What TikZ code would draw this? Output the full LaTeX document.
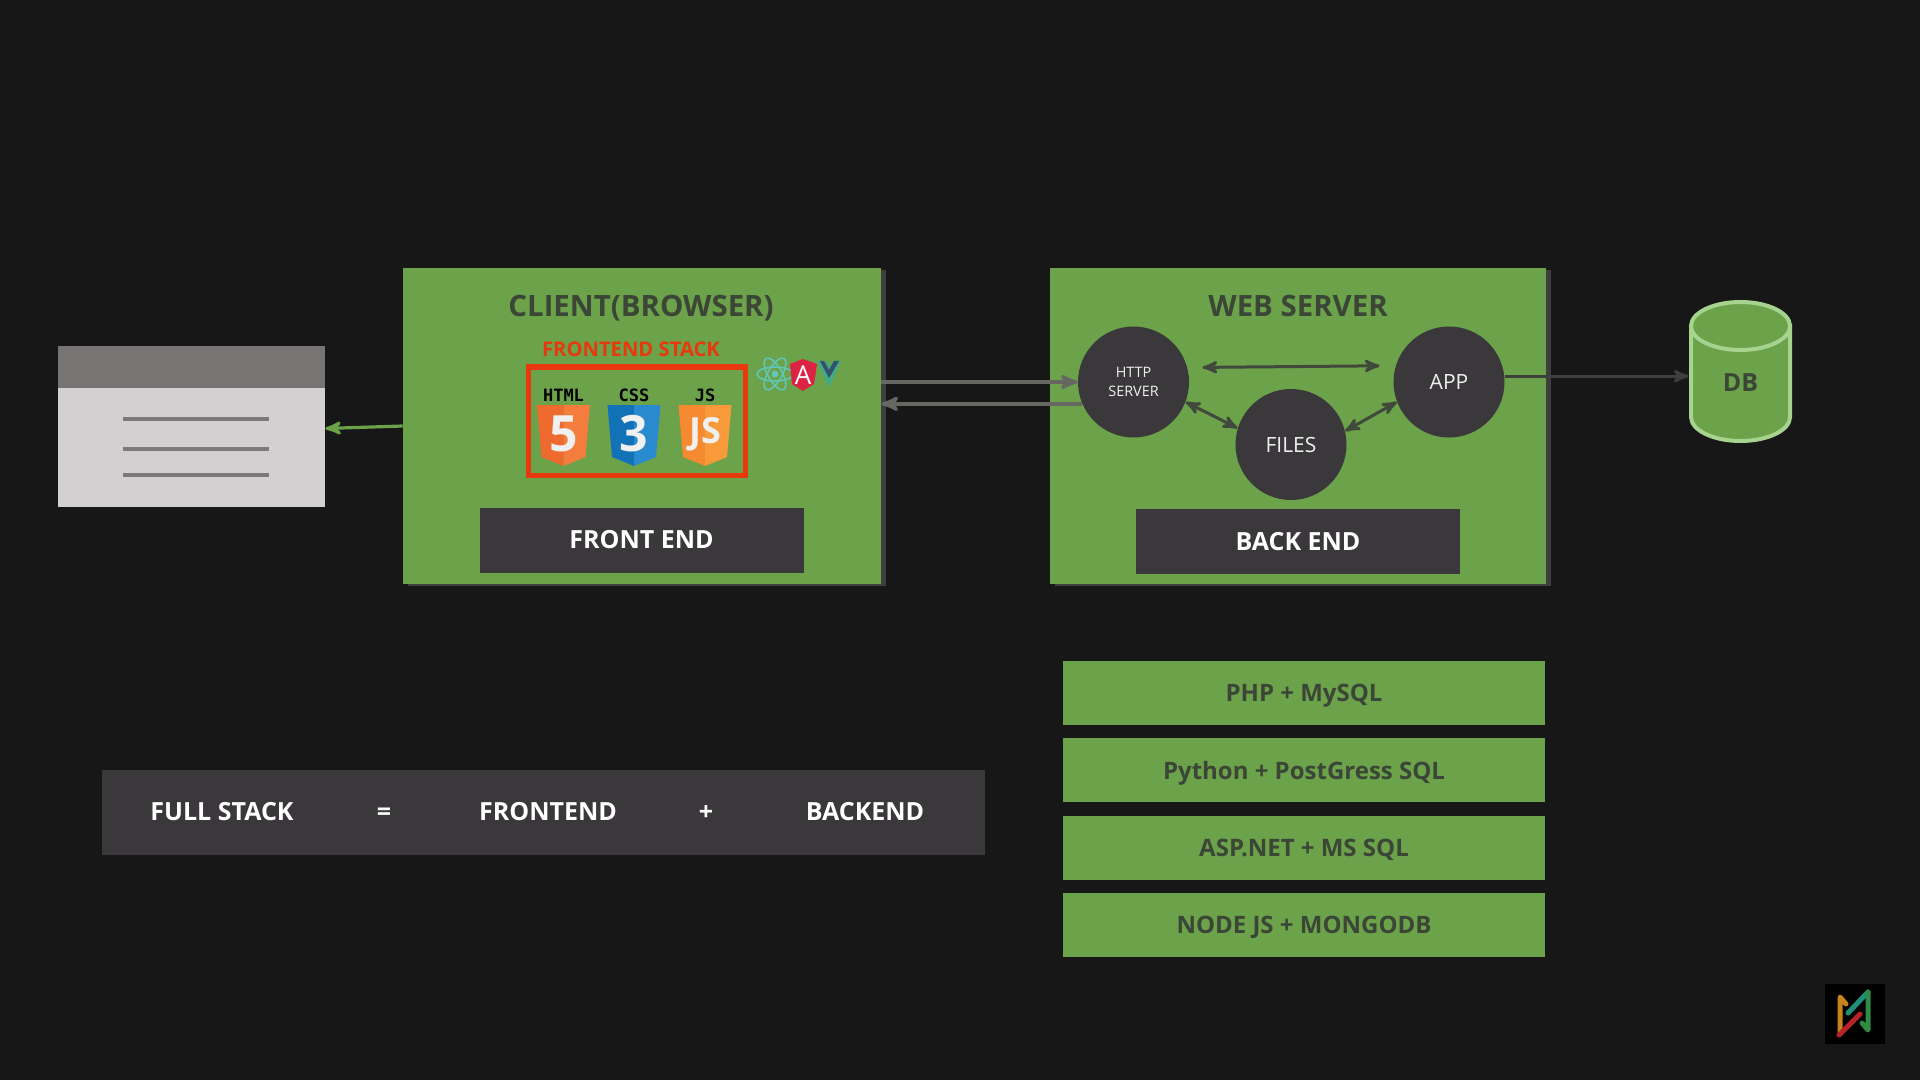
\documentclass[tikz,border=0pt]{standalone}
\usepackage{fontspec}
\setmainfont{Open Sans}
\newfontfamily\logofont{DejaVu Sans Mono}
\usetikzlibrary{arrows,positioning,shadows}

\definecolor{pagedark}{HTML}{171717}
\definecolor{boxgreen}{HTML}{6BA24A}
\definecolor{barblack}{HTML}{3A383A}
\definecolor{shadowgrey}{HTML}{3E3E3E}
\definecolor{linkgrey}{HTML}{666663}
\definecolor{textdark}{HTML}{3C4637}
\definecolor{stackred}{HTML}{E8380D}
\definecolor{dbrim}{HTML}{A6D38E}
\definecolor{htmldark}{HTML}{EE6A2F}
\definecolor{htmllight}{HTML}{F47C3C}
\definecolor{cssdark}{HTML}{1272B8}
\definecolor{csslight}{HTML}{2A8AD0}
\definecolor{jsdark}{HTML}{F58A30}
\definecolor{jslight}{HTML}{F99A3A}
\definecolor{reactteal}{HTML}{62C6B6}
\definecolor{angularred}{HTML}{DC2344}
\definecolor{vuegreen}{HTML}{3FA98A}
\definecolor{vuedark}{HTML}{34506A}
\definecolor{pagebody}{HTML}{D4D0D2}
\definecolor{pagehead}{HTML}{787474}
\definecolor{pageline}{HTML}{7C787C}
\definecolor{markorange}{HTML}{C8821E}
\definecolor{markred}{HTML}{B8232A}
\definecolor{markteal}{HTML}{1F8F7A}
\definecolor{markgreen}{HTML}{2F8A45}

\tikzset{
  tierbox/.style={fill=boxgreen,minimum width=#1,minimum height=158pt,inner sep=0pt,
    general shadow={fill=shadowgrey,shadow xshift=2.5pt,shadow yshift=-1pt}},
  tiertitle/.style={text=textdark,text height=10.6pt,text depth=0pt,font=\fontsize{14.7}{17}\bfseries},
  endbar/.style={fill=barblack,text=white,minimum width=162pt,minimum height=32.5pt,
    inner sep=0pt,text height=8.9pt,text depth=0pt,font=\fontsize{12.5}{15}\bfseries},
  role/.style={circle,fill=barblack,text=white!94!black,minimum size=55.5pt,inner sep=0pt,
    align=center,font=\fontsize{10.5}{12}\selectfont},
  comboBar/.style={fill=boxgreen,text=textdark,minimum width=241pt,minimum height=32pt,
    inner sep=0pt,text height=8.7pt,text depth=0pt,font=\fontsize{12}{14}\bfseries},
  sumterm/.style={text=white,text height=8.9pt,text depth=0pt,font=\fontsize{12.5}{15}\bfseries},
  logolabel/.style={inner sep=0pt,text=black,font=\fontsize{8.5}{9}\logofont\bfseries},
  logoglyph/.style={inner sep=0pt,text=white!94!black,font=\fontsize{#1}{26}\bfseries},
  boxlink/.style={->,draw=linkgrey,line width=1.8pt},
  innerlink/.style={<->,draw=barblack!85!boxgreen,line width=1.5pt},
  logostroke/.style={line width=2.5pt,line cap=round,line join=round}
}

% one shield logo: name, x, dark half, light half, label, glyph, glyph size
\newcommand{\shieldlogo}[7]{
  \fill[#3] (#2-26.5,405) -- (#2,405) -- (#2,466) -- (#2-22,457) -- cycle;
  \fill[#4] (#2,405) -- (#2+26.5,405) -- (#2+22,457) -- (#2,466) -- cycle;
  \node[logolabel] (#1label) at (#2,395) {#5};
  \node[logoglyph=#7] (#1glyph) at (#2,434) {#6};
}

\begin{document}
\begin{tikzpicture}[x=0.5pt,y=-0.5pt,>=stealth']

  \fill[pagedark] (0,0) rectangle (1920,1080);
  \useasboundingbox (0,0) rectangle (1920,1080);

  % browser window
  \node[fill=pagebody,minimum width=133.5pt,minimum height=80.5pt,inner sep=0pt] (browser) at (191.5,426.5) {};
  \fill[pagehead] (browser.north west) rectangle ([yshift=-21pt]browser.north east);
  \foreach \liney in {419,449,475}
    \draw[pageline,line width=2pt] (123,\liney) -- (269,\liney);

  % client
  \node[tierbox=239pt] (client) at (642,426) {};
  \node[tiertitle] (clienttitle) at (641,306) {CLIENT(BROWSER)};
  \node[text=stackred,inner sep=0pt,font=\fontsize{10.1}{12}\bfseries] (stacktitle) at (631,349) {FRONTEND STACK};
  \node[draw=stackred,line width=2.5pt,minimum width=108.5pt,minimum height=54pt,inner sep=0pt] (stackbox) at (636.5,421) {};
  \shieldlogo{html}{563.5}{htmldark}{htmllight}{HTML}{5}{25}
  \shieldlogo{css}{634}{cssdark}{csslight}{CSS}{3}{25}
  \shieldlogo{js}{705}{jsdark}{jslight}{JS}{JS}{18}

  % the three framework marks
  \foreach \tilt in {0,60,120}
    \draw[reactteal,line width=0.8pt,rotate around={\tilt:(775,374)}] (775,374) ellipse (18 and 7);
  \fill[reactteal] (775,374) circle (3.5);
  \fill[vuegreen] (817,361) -- (826,361) -- (829,367) -- (833,361) -- (841,361) -- (829,387) -- cycle;
  \fill[vuedark] (824,361) -- (829,370) -- (834,361) -- (839,361) -- (829,378) -- (820,361) -- cycle;
  \fill[angularred] (803,359) -- (817,364) -- (814,384) -- (803,391) -- (792,384) -- (790,364) -- cycle;
  \node[text=white,inner sep=0pt,font=\fontsize{13}{14}\selectfont] (angular) at (803,375) {A};

  \node[endbar] (frontbar) at (641.5,540) {FRONT END};

  % web server
  \node[tierbox=248pt] (server) at (1297.5,426) {};
  \node[tiertitle] (servertitle) at (1298,306) {WEB SERVER};
  \node[role,font=\fontsize{7.2}{9.5}\selectfont] (http) at (1133.5,382) {HTTP\\SERVER};
  \node[role] (app) at (1449,382) {APP};
  \node[role] (files) at (1291,444.5) {FILES};
  \node[endbar] (backbar) at (1298,541.5) {BACK END};

  \draw[innerlink,shorten >=8pt,shorten <=7.5pt] (http.15) -- (app.163);
  \draw[innerlink] (http.-21) -- (files.163);
  \draw[innerlink] (files.14) -- (app.201);

  % arrows between the boxes
  \draw[boxlink] (http.west -| client.east) -- (http.west);
  \draw[boxlink] (http.203) -- (http.203 -| client.east);
  \draw[->,draw=boxgreen,line width=1.6pt] (client.west) -- ([yshift=-1pt]browser.east);

  % database
  \draw[dbrim,fill=boxgreen,line width=2pt] (1691,326) -- (1691,417) arc (180:0:49.5 and 24) -- (1790,326) -- cycle;
  \draw[dbrim,fill=boxgreen,line width=2pt] (1740.5,326) ellipse (49.5 and 24);
  \node[minimum width=51.5pt,minimum height=71.5pt,inner sep=0pt,text=textdark,
    font=\fontsize{12.5}{14}\bfseries] (db) at (1740.5,383) {DB};
  \draw[boxlink,draw=shadowgrey,line width=1.5pt] (app.6) -- (app.6 -| db.west);

  % the sum
  \node[fill=barblack,minimum width=441.5pt,minimum height=42.5pt,inner sep=0pt] (sumbar) at (543.5,812.5) {};
  \node[sumterm] (fullstack) at (222,812) {FULL STACK};
  \node[sumterm] (equals) at (384,812) {=};
  \node[sumterm] (frontend) at (548,812) {FRONTEND};
  \node[sumterm] (plus) at (706,812) {+};
  \node[sumterm] (backend) at (865,812) {BACKEND};

  % the stacks
  \node[comboBar] (php) at (1304,693) {PHP + MySQL};
  \node[comboBar] (python) [below=6.3pt of php] {Python + PostGress SQL};
  \node[comboBar] (aspnet) [below=6.3pt of python] {ASP.NET + MS SQL};
  \node[comboBar] (nodejs) [below=6.3pt of aspnet] {NODE JS + MONGODB};

  % corner logo
  \node[fill=black,minimum size=30pt,inner sep=0pt] (cornerlogo) at (1855,1014) {};
  \draw[logostroke,draw=markorange] (1840,1034) -- (1840,997) -- (1846,1004);
  \draw[logostroke,draw=markred] (1839,1035) -- (1860,1014);
  \draw[logostroke,draw=markteal] (1848,1013) -- (1868,992);
  \draw[logostroke,draw=markgreen] (1868,992) -- (1868,1030) -- (1862,1023);

\end{tikzpicture}
\end{document}
